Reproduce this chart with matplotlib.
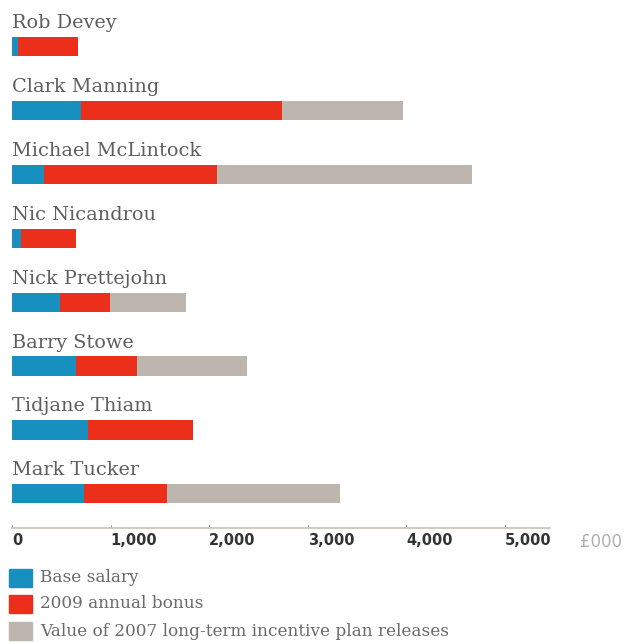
import matplotlib.pyplot as plt
from matplotlib.patches import Rectangle

names = ["Rob Devey", "Clark Manning", "Michael McLintock", "Nic Nicandrou",
         "Nick Prettejohn", "Barry Stowe", "Tidjane Thiam", "Mark Tucker"]
base_salary = [65, 700, 323, 92, 490, 653, 769, 735]
annual_bonus = [605, 2045, 1759, 558, 503, 619, 1064, 843]
ltip_release = [0, 1225, 2591, 0, 772, 1113, 0, 1752]

series_labels = ["Base salary", "2009 annual bonus",
                 "Value of 2007 long-term incentive plan releases"]
colors = ["#1790bf", "#ec2f1b", "#bdb6ae"]
xticks = [0, 1000, 2000, 3000, 4000, 5000]

W, H = 634, 642
fig = plt.figure(figsize=(W / 100, H / 100), dpi=100)
fig.patch.set_facecolor("white")

# axes placed in pixel terms: x=0 at 12px, ~98.5px per 1000
ax = fig.add_axes([12 / W, (H - 528) / H, 538 / W, 528 / H])
ax.set_xlim(0, 5460)
ax.set_ylim(7.535, -0.73)

ypos = list(range(len(names)))
bar_h = 0.30
left = [0] * len(names)
for vals, col in zip([base_salary, annual_bonus, ltip_release], colors):
    ax.barh(ypos, vals, left=left, height=bar_h, color=col, edgecolor="none")
    left = [l + v for l, v in zip(left, vals)]

for y, n in zip(ypos, names):
    ax.text(0, y - 0.29, n, ha="left", va="baseline", fontsize=13.9,
            family="DejaVu Serif", color="#5e5e5e", clip_on=False)

for s in ["top", "right", "left"]:
    ax.spines[s].set_visible(False)
ax.spines["bottom"].set_color("#cfc6b8")
ax.spines["bottom"].set_linewidth(1.3)
ax.set_yticks([])
ax.set_xticks(xticks)
ax.set_xticklabels([f"{t:,}" for t in xticks], fontsize=10.5, fontweight="bold",
                   color="#333333", ha="left")
ax.tick_params(axis="x", direction="in", length=2, color="#999999", pad=3.5)
ax.text(5767, -0.01, "£000", transform=ax.get_xaxis_transform(), va="top",
        fontsize=12, color="#b0b0b0", clip_on=False)

# legend, drawn by hand
leg_y = [578, 604, 631]
for yc, lab, col in zip(leg_y, series_labels, colors):
    fig.add_artist(Rectangle((9 / W, (H - yc - 9) / H), 23 / W, 18 / H,
                             transform=fig.transFigure, color=col))
    fig.text(40 / W, (H - yc) / H, lab, ha="left", va="center", fontsize=12.2,
             family="DejaVu Serif", color="#6a6a6a")

fig.savefig("out.png", dpi=100)
